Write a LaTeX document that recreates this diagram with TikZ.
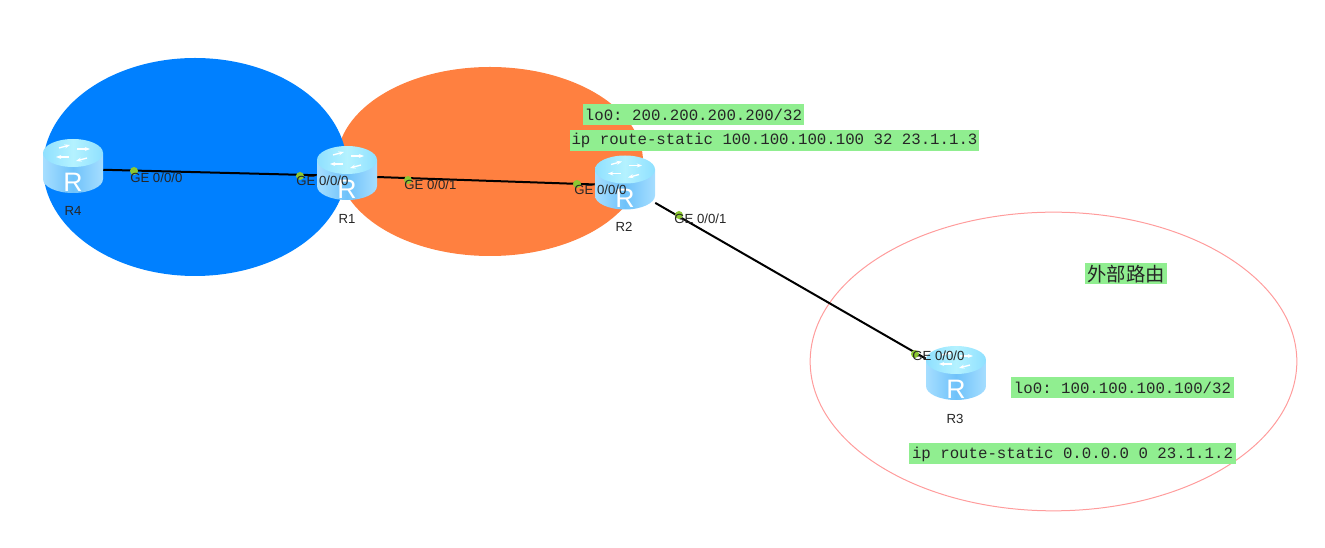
\documentclass[tikz,border=0pt]{standalone}
\usepackage{fontspec}
\setmainfont{Liberation Sans}
\setmonofont{Liberation Mono}
\newfontfamily\cjkfont{Noto Sans CJK SC}
\usetikzlibrary{
  arrows.meta,
  positioning,
  shapes.geometric
}
\definecolor{areablue}{HTML}{0080FF}
\definecolor{areaorange}{HTML}{FF8040}
\definecolor{areapink}{HTML}{FF9C9C}
\definecolor{configgreen}{HTML}{90EE90}
\definecolor{portgreen}{HTML}{8CC832}
\definecolor{bodyedge}{HTML}{A6DEFF}
\definecolor{bodymid}{HTML}{6FC2FA}
\definecolor{topedge}{HTML}{8FE0FF}
\definecolor{topmid}{HTML}{B4F2FF}
\newcommand{\routerR}{\smash{\raisebox{-16.8pt}{\makebox[0pt]{R}}}}

\begin{document}
\begin{tikzpicture}[
  x=0.75pt, y=-0.75pt,
  area/.style={ellipse, inner sep=0pt, fill=#1},
  router/.style={minimum width=45pt, minimum height=45pt, inner sep=0pt,
                 font=\fontsize{20}{20}\selectfont, text=white,
                 path picture={
                   \begin{scope}[shift={(path picture bounding box.center)}]
                     \shade[left color=bodyedge, right color=bodyedge, middle color=bodymid]
                       (-30,-16) -- (30,-16) -- (30,10) arc[start angle=0, end angle=180, x radius=30, y radius=14] -- cycle;
                     \shade[left color=topedge, right color=topedge, middle color=topmid]
                       (0,-16) ellipse[x radius=30, y radius=14];
                     \draw[white, line width=1pt, -{Stealth[length=4pt]}] (-4,-12) -- (-17,-12);
                     \draw[white, line width=1pt, -{Stealth[length=4pt]}] (-14,-21) -- (-3,-24);
                     \draw[white, line width=1pt, -{Stealth[length=4pt]}] (4,-20) -- (17,-20);
                     \draw[white, line width=1pt, -{Stealth[length=4pt]}] (14,-11) -- (3,-8);
                   \end{scope}
                 }},
  link/.style={draw=black, line width=1.5pt},
  port/.style={circle, fill=portgreen, inner sep=0pt, minimum size=6pt},
  portlabel/.style={font=\fontsize{9.9}{10}\selectfont, text=black!85, inner sep=0pt, anchor=west},
  routername/.style={font=\fontsize{9.9}{10}\selectfont, text=black!85, inner sep=0pt},
  config/.style={fill=configgreen, inner sep=0pt, minimum height=15.75pt, align=center,
                 font=\ttfamily\fontsize{11.8}{12}\selectfont, text=black!85}
]
  \useasboundingbox (0,0) rectangle (1325,548);

  % Areas
  \node[area=areaorange, minimum width=229.5pt, minimum height=141.75pt] (areaB) at (490,161.5) {};
  \node[area=areablue, minimum width=228pt, minimum height=163.5pt] (areaA) at (195,167) {};
  \node[ellipse, draw=areapink, line width=0.75pt, inner sep=0pt, minimum width=365pt, minimum height=224pt] (areaC) at (1053.5,361.5) {};

  % Routers
  \node[router] (R4) at (73,169) {\routerR};
  \node[router] (R1) at (347,176) {\routerR};
  \node[router] (R2) at (625,185.5) {\routerR};
  \node[router] (R3) at (956,376) {\routerR};

  % Links
  \draw[link] (R4) -- (R1);
  \draw[link] (R1) -- (R2);
  \draw[link] (R2) -- (R3);

  % Router names
  \node[routername] (nameR4) at (73,211) {R4};
  \node[routername] (nameR1) at (347,219) {R1};
  \node[routername] (nameR2) at (624,227) {R2};
  \node[routername] (nameR3) at (955,419) {R3};

  % Ports
  \node[port] (p40) at (134,171) {};
  \node[port] (p10) at (300,176) {};
  \node[port] (p11) at (408,180) {};
  \node[port] (p20) at (577,184) {};
  \node[port] (p21) at (679,215) {};
  \node[port] (p30) at (915,354) {};

  \node[portlabel] (l40) at (130,178) {GE 0/0/0};
  \node[portlabel] (l10) at (296,181) {GE 0/0/0};
  \node[portlabel] (l11) at (404,185) {GE 0/0/1};
  \node[portlabel] (l20) at (574,190) {GE 0/0/0};
  \node[portlabel] (l21) at (674,219) {GE 0/0/1};
  \node[portlabel] (l30) at (912,356) {GE 0/0/0};

  % Configuration
  \node[config, minimum width=165.75pt] (loR2) at (693.5,115) {lo0: 200.200.200.200/32};
  \node[config, minimum width=306.75pt] (ipR2) at (774.5,140.5) {ip route-static 100.100.100.100 32 23.1.1.3};
  \node[config, minimum width=167.25pt] (loR3) at (1122.5,388) {lo0: 100.100.100.100/32};
  \node[config, minimum width=245.25pt] (ipR3) at (1072.5,454) {ip route-static 0.0.0.0 0 23.1.1.2};
  \node[config, minimum width=61.5pt, font=\cjkfont\fontsize{14.5}{15}\selectfont] (extR3) at (1126,274) {外部路由};
\end{tikzpicture}
\end{document}
